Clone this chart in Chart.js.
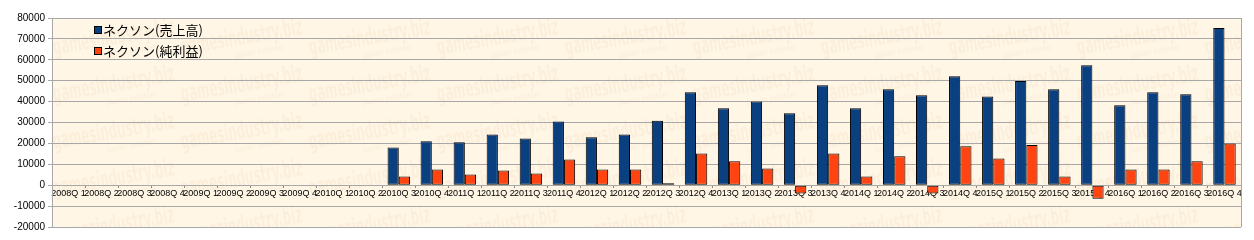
<!DOCTYPE html>
<html>
<head>
<meta charset="utf-8">
<script src="https://cdn.jsdelivr.net/npm/chart.js@4.4.1/dist/chart.umd.min.js"></script>
<style>
  html, body { margin: 0; padding: 0; background: #fff; }
</style>
</head>
<body>
<canvas id="c" width="1254" height="240"></canvas>
<script>
// quarters shown on the x axis
var quarters = [
  '2008Q 1', '2008Q 2', '2008Q 3', '2008Q 4',
  '2009Q 1', '2009Q 2', '2009Q 3', '2009Q 4',
  '2010Q 1', '2010Q 2', '2010Q 3', '2010Q 4',
  '2011Q 1', '2011Q 2', '2011Q 3', '2011Q 4',
  '2012Q 1', '2012Q 2', '2012Q 3', '2012Q 4',
  '2013Q 1', '2013Q 2', '2013Q 3', '2013Q 4',
  '2014Q 1', '2014Q 2', '2014Q 3', '2014Q 4',
  '2015Q 1', '2015Q 2', '2015Q 3', '2015Q 4',
  '2016Q 1', '2016Q 2', '2016Q 3', '2016Q 4'
];

// 売上高 (blue)
var sales = [
  null, null, null, null,
  null, null, null, null,
  null, null, 18000, 21000,
  20500, 24300, 22400, 30500,
  22900, 24300, 30800, 44500,
  36800, 40100, 34400, 47800,
  36800, 45900, 43000, 52100,
  42500, 49900, 45900, 57400,
  38200, 44500, 43500, 75200
];

// 純利益 (red)
var profit = [
  null, null, null, null,
  null, null, null, null,
  null, null, 4200, 7500,
  5100, 7000, 5600, 12300,
  7500, 7500, 500, 15200,
  11400, 8000, -4000, 15200,
  4200, 13800, -4000, 18600,
  12800, 19200, 4200, -6500,
  7500, 7500, 11400, 20000
];

var seriesNames = ['ネクソン(売上高)', 'ネクソン(純利益)'];
var seriesColors = ['#0A3F80', '#FF4412'];

var GRID = '#A8A8A8';

// cream plot area + faint watermark
var plotBg = {
  id: 'plotBg',
  beforeDraw: function (chart) {
    var a = chart.chartArea, ctx = chart.ctx;
    ctx.save();
    ctx.fillStyle = '#FFF6E6';
    ctx.fillRect(a.left, a.top, a.right - a.left, a.bottom - a.top);
    ctx.beginPath();
    ctx.rect(a.left, a.top, a.right - a.left, a.bottom - a.top);
    ctx.clip();
    ctx.fillStyle = 'rgba(180,130,70,0.06)';
    for (var y = 8; y < a.bottom + 60; y += 47) {
      for (var x = 54 - 128; x < a.right + 10; x += 128) {
        ctx.save();
        ctx.translate(x, y);
        ctx.rotate(-0.17);
        ctx.font = 'bold 24px "Liberation Sans Narrow", "DejaVu Sans Condensed", sans-serif';
        var w = ctx.measureText('gamesindustry.biz').width;
        ctx.save();
        ctx.scale(123 / w, 1);
        ctx.fillText('gamesindustry.biz', 0, 0);
        ctx.restore();
        ctx.font = 'bold 8px "Liberation Sans", sans-serif';
        ctx.fillText('japan edition', 52, 12);
        ctx.restore();
      }
    }
    ctx.restore();
  },
  afterDraw: function (chart) {
    var a = chart.chartArea, ctx = chart.ctx;
    ctx.save();
    ctx.strokeStyle = GRID;
    ctx.lineWidth = 1;
    ctx.beginPath();
    ctx.moveTo(Math.round(a.right) + 0.5, a.top);
    ctx.lineTo(Math.round(a.right) + 0.5, a.bottom);
    ctx.stroke();

    // legend inside the plot area
    ctx.font = '13px "Noto Sans CJK JP", sans-serif';
    ctx.textBaseline = 'middle';
    chart.data.datasets.forEach(function (d, i) {
      var cy = 30 + i * 21;
      ctx.fillStyle = d.backgroundColor;
      ctx.fillRect(94.5, cy - 3.5, 7, 7);
      ctx.strokeStyle = '#000';
      ctx.strokeRect(94.5, cy - 3.5, 7, 7);
      ctx.fillStyle = '#000';
      ctx.fillText(d.label, 103, cy);
    });
    ctx.restore();
  }
};

new Chart(document.getElementById('c'), {
  type: 'bar',
  data: {
    labels: quarters,
    datasets: [
      { label: seriesNames[0], data: sales, backgroundColor: seriesColors[0],
        borderColor: '#000', borderWidth: 1, borderSkipped: false, minBarLength: 2 },
      { label: seriesNames[1], data: profit, backgroundColor: seriesColors[1],
        borderColor: '#000', borderWidth: 1, borderSkipped: false, minBarLength: 2 }
    ]
  },
  options: {
    responsive: false,
    animation: false,
    layout: { padding: { top: 18, right: 13, bottom: 13, left: 0 } },
    datasets: { bar: { categoryPercentage: 0.68, barPercentage: 1.0 } },
    plugins: {
      legend: { display: false },
      tooltip: { enabled: false }
    },
    scales: {
      x: {
        position: { y: 0 },
        offset: true,
        grid: { display: true, drawOnChartArea: false, offset: true, tickLength: 3, color: '#888' },
        border: { display: false },
        ticks: {
          autoSkip: false, maxRotation: 0, minRotation: 0, padding: 0,
          color: '#000', font: { family: '"Liberation Sans", sans-serif', size: 9 }
        }
      },
      y: {
        min: -20000,
        max: 80000,
        afterFit: function (s) { s.width = 52; },
        grid: { color: GRID, tickLength: 4 },
        border: { color: GRID },
        ticks: {
          stepSize: 10000, padding: 3, color: '#000',
          font: { family: '"Liberation Sans", sans-serif', size: 10 },
          callback: function (v) { return String(v); }
        }
      }
    }
  },
  plugins: [plotBg]
});
</script>
</body>
</html>
